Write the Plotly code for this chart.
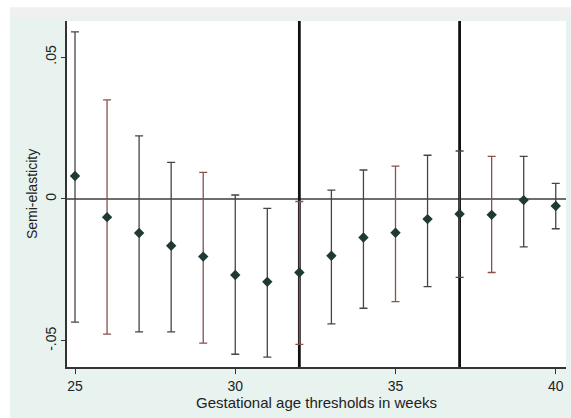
import plotly.graph_objects as go

weeks = [25, 26, 27, 28, 29, 30, 31, 32, 33, 34, 35, 36, 37, 38, 39, 40]
estimate = [0.0081, -0.0064, -0.0120, -0.0165, -0.0203, -0.0268, -0.0292, -0.0259,
            -0.0200, -0.0136, -0.0119, -0.0071, -0.0053, -0.0056, -0.0004, -0.0025]
ci_upper = [0.0589, 0.0349, 0.0222, 0.0129, 0.0094, 0.0014, -0.0033, -0.0009,
            0.0031, 0.0102, 0.0116, 0.0154, 0.0169, 0.0150, 0.0150, 0.0055]
ci_lower = [-0.0434, -0.0476, -0.0468, -0.0468, -0.0508, -0.0547, -0.0557, -0.0512,
            -0.0440, -0.0385, -0.0362, -0.0309, -0.0276, -0.0259, -0.0169, -0.0105]
bar_group = ["g", "r", "g", "g", "r", "g", "g", "r", "g", "g", "r", "g", "g", "r", "g", "g"]
thresholds = [32, 37]
y_tickvals = [-0.05, 0, 0.05]
y_ticktext = ["-.05", "0", ".05"]
x_tickvals = [25, 30, 35, 40]

group_colors = {"g": "#454545", "r": "#8a4f4f"}

fig = go.Figure()
for g, col in group_colors.items():
    idx = [i for i, b in enumerate(bar_group) if b == g]
    fig.add_trace(go.Scatter(
        x=[weeks[i] for i in idx],
        y=[estimate[i] for i in idx],
        mode="markers",
        marker=dict(symbol="diamond", size=8, color="#1f3a35"),
        error_y=dict(type="data", symmetric=False,
                     array=[ci_upper[i] - estimate[i] for i in idx],
                     arrayminus=[estimate[i] - ci_lower[i] for i in idx],
                     color=col, thickness=1.3, width=4),
        showlegend=False,
    ))

fig.add_hline(y=0, line=dict(color="#3c3c3c", width=1.5), layer="below")
for t in thresholds:
    fig.add_vline(x=t, line=dict(color="#111111", width=2.8), layer="below")

# outer white border + grey band (Stata graph region look)
fig.add_shape(type="rect", xref="paper", yref="paper", x0=-0.2, x1=1.1, y0=1.0115, y1=1.07,
              fillcolor="#f0f0f0", line_width=0, layer="below")
fig.add_shape(type="rect", xref="paper", yref="paper", x0=-0.2, x1=1.1, y0=1.04, y1=1.2,
              fillcolor="#ffffff", line_width=0, layer="below")
fig.add_shape(type="rect", xref="paper", yref="paper", x0=-0.2, x1=-0.1143, y0=-0.3, y1=1.2,
              fillcolor="#ffffff", line_width=0, layer="below")

fig.update_layout(
    width=571, height=418,
    margin=dict(l=67, r=5, t=21, b=51),
    paper_bgcolor="#e8f3f0",
    plot_bgcolor="#ffffff",
    font=dict(family="Arial, Liberation Sans, sans-serif", size=14, color="#222222"),
    xaxis=dict(range=[24.75, 40.32], tickvals=x_tickvals, ticks="outside", ticklen=5,
               tickcolor="#333333", showline=True, linecolor="#333333", linewidth=1.5,
               showgrid=False, zeroline=False, mirror=False, tickfont=dict(size=14),
               title=dict(text="Gestational age thresholds in weeks", standoff=0,
                          font=dict(size=15))),
    yaxis=dict(range=[-0.0592, 0.0627], tickvals=y_tickvals, ticktext=y_ticktext,
               tickangle=-90, ticks="outside", ticklen=4, tickcolor="#333333",
               showline=True, linecolor="#333333", linewidth=1.5, tickfont=dict(size=14),
               showgrid=False, zeroline=False,
               title=dict(text="Semi-elasticity", standoff=2, font=dict(size=14))),
)

fig.write_html("out.html")
